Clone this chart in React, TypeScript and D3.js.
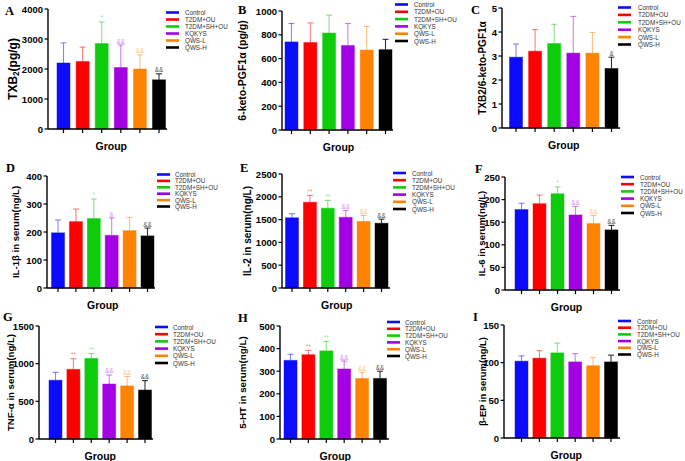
import React from "react";
import * as d3 from "d3";

const groups = ["Control", "T2DM+OU", "T2DM+SH+OU", "KQKYS", "QWS-L", "QWS-H"];
const colors = ["#0b0bff", "#ff0000", "#0ccc0c", "#a400e4", "#ff8200", "#000000"];

// Means and upper error-bar ends
const meanA = [2200, 2250, 2850, 2050, 2000, 1640];
const topA = [2870, 2730, 3570, 2800, 2470, 1840];
const markA = ["", "", "*", "&&", "&&", "&&"];

const meanB = [740, 735, 815, 710, 672, 675];
const topB = [895, 900, 965, 895, 870, 762];
const markB = ["", "", "", "", "", ""];

const meanC = [2.95, 3.2, 3.52, 3.12, 3.12, 2.48];
const topC = [3.5, 4.1, 4.32, 4.65, 3.98, 2.95];
const markC = ["", "", "", "", "", "&"];

const meanD = [197, 237, 248, 188, 205, 186];
const topD = [243, 282, 318, 250, 252, 214];
const markD = ["", "", "*", "&", "", "&&"];

const meanE = [1540, 1880, 1750, 1550, 1460, 1420];
const topE = [1630, 2030, 1920, 1700, 1590, 1510];
const markE = ["", "**", "**", "&&", "&&", "&&"];

const meanF = [178, 191, 213, 166, 147, 133];
const topF = [192, 210, 228, 185, 165, 143];
const markF = ["", "", "*", "&&", "&&", "&&"];

const meanG = [780, 925, 1070, 730, 705, 650];
const topG = [885, 1065, 1135, 850, 830, 775];
const markG = ["", "**", "**", "&&", "&&", "&&"];

const meanH = [348, 373, 390, 310, 268, 268];
const topH = [375, 392, 432, 345, 295, 300];
const markH = ["", "**", "**", "&&", "&&", "&&"];

const meanI = [102, 106, 113, 101, 96, 101];
const topI = [109, 116, 126, 112, 107, 110];
const markI = ["", "", "", "", "", ""];

const ticksA = [0, 1000, 2000, 3000, 4000];
const ticksB = [0, 200, 400, 600, 800, 1000];
const ticksC = [0, 1, 2, 3, 4, 5];
const ticksD = [0, 100, 200, 300, 400];
const ticksE = [0, 500, 1000, 1500, 2000, 2500];
const ticksF = [0, 50, 100, 150, 200, 250];
const ticksG = [0, 500, 1000, 1500];
const ticksH = [0, 100, 200, 300, 400, 500];
const ticksI = [0, 50, 100, 150];

const yLabels = ["TXB2(pg/g)", "6-keto-PGF1α (pg/g)", "TXB2/6-keto-PGF1α", "IL-1β in serum(ng/L)", "IL-2 in serum(ng/L)", "IL-6 in serum(ng/L)", "TNF-α in serum(ng/L)", "5-HT in serum(ng/L)", "β-EP in serum(ng/L)"];
const letters = ["A", "B", "C", "D", "E", "F", "G", "H", "I"];

// Layout (pixel positions and sizes only)
const layout = [
  { ax: 48, yt: 9, yb: 129, c0: 63.5, c1: 159, xe: 167, yl: 13, yfs: 12, lx: 5, ly: 15, sw: 166, tx: 185, ly0: 12.5, ldy: 7 },
  { ax: 282, yt: 11, yb: 130, c0: 291.5, c1: 385.5, xe: 393, yl: 242, yfs: 10.5, lx: 238, ly: 14, sw: 395, tx: 414, ly0: 4.5, ldy: 7.3 },
  { ax: 502, yt: 8, yb: 128, c0: 516, c1: 611.5, xe: 620, yl: 482, yfs: 10, lx: 471, ly: 14, sw: 618, tx: 638, ly0: 7.5, ldy: 7.4 },
  { ax: 47, yt: 176, yb: 288, c0: 58, c1: 147.5, xe: 155, yl: 15, yfs: 9.6, lx: 6, ly: 172, sw: 157, tx: 175, ly0: 174.5, ldy: 6.4 },
  { ax: 282, yt: 174, yb: 288, c0: 292, c1: 381.5, xe: 390, yl: 247, yfs: 10, lx: 240, ly: 172, sw: 393, tx: 412, ly0: 173, ldy: 7.2 },
  { ax: 505, yt: 177, yb: 290, c0: 521.5, c1: 611.5, xe: 620, yl: 481, yfs: 9.5, lx: 475, ly: 173, sw: 621, tx: 640, ly0: 177, ldy: 7.2 },
  { ax: 39, yt: 326, yb: 439, c0: 55.5, c1: 145, xe: 153, yl: 10, yfs: 9.6, lx: 3, ly: 321, sw: 155, tx: 173, ly0: 327, ldy: 7.2 },
  { ax: 280, yt: 326, yb: 439, c0: 290.5, c1: 380, xe: 389, yl: 242, yfs: 9.8, lx: 238, ly: 322, sw: 387, tx: 405, ly0: 322, ldy: 6.8 },
  { ax: 504, yt: 325, yb: 438, c0: 521.5, c1: 611, xe: 620, yl: 482, yfs: 9.4, lx: 473, ly: 321, sw: 618, tx: 637, ly0: 321, ldy: 6.7 },
];

const means = [meanA, meanB, meanC, meanD, meanE, meanF, meanG, meanH, meanI];
const tops = [topA, topB, topC, topD, topE, topF, topG, topH, topI];
const marks = [markA, markB, markC, markD, markE, markF, markG, markH, markI];
const ticks = [ticksA, ticksB, ticksC, ticksD, ticksE, ticksF, ticksG, ticksH, ticksI];

const SANS = "'Liberation Sans', Arial, sans-serif";
const SERIF = "'Liberation Serif', 'Times New Roman', serif";

function YLabel({ text, x, y, fs }: { text: string; x: number; y: number; fs: number }) {
  const sub = text.startsWith("TXB2(");
  return (
    <text transform={`translate(${x},${y}) rotate(-90)`} textAnchor="middle" dominantBaseline="central"
      fontFamily={SANS} fontWeight="bold" fontSize={fs} fill="#000">
      {sub ? (<><tspan>TXB</tspan><tspan fontSize={fs * 0.68} dy={2.5}>2</tspan><tspan dy={-2.5}>(pg/g)</tspan></>) : text}
    </text>
  );
}

function Panel({ i }: { i: number }) {
  const L = layout[i];
  const tv = ticks[i];
  const y = d3.scaleLinear().domain([0, tv[tv.length - 1]]).range([L.yb, L.yt]);
  const x = d3.scalePoint<string>().domain(groups).range([L.c0, L.c1]);
  const bw = 13;
  const cap = 3;
  const fmt = d3.format("d");
  return (
    <g>
      <text x={L.lx} y={L.ly} fontFamily={SERIF} fontWeight="bold" fontSize={12.5}>{letters[i]}</text>
      {groups.map((g, k) => {
        const cx = x(g)!;
        const m = means[i][k];
        const t = tops[i][k];
        const col = colors[k];
        return (
          <g key={g}>
            <line x1={cx} x2={cx} y1={y(m)} y2={y(t)} stroke={col} strokeOpacity={k === 5 ? 0.8 : 0.5} strokeWidth={1.1} />
            <line x1={cx - cap} x2={cx + cap} y1={y(t)} y2={y(t)} stroke={col} strokeOpacity={k === 5 ? 0.8 : 0.5} strokeWidth={1.1} />
            <rect x={cx - bw / 2} y={y(m)} width={bw} height={y(0) - y(m)} fill={col} stroke={col} strokeOpacity={0.45} strokeWidth={1} />
            {marks[i][k] ? (
              <text x={cx} y={y(t) - 1.5} textAnchor="middle" fontFamily={SANS} fontSize={6.3} fill={col} fillOpacity={k === 5 ? 0.75 : 0.5}>{marks[i][k]}</text>
            ) : null}
          </g>
        );
      })}
      {/* y axis */}
      <line x1={L.ax} x2={L.ax} y1={L.yt} y2={L.yb} stroke="#000" strokeWidth={1.4} />
      {tv.map((v) => (
        <g key={v}>
          <line x1={L.ax - 3.5} x2={L.ax} y1={y(v)} y2={y(v)} stroke="#000" strokeWidth={1.2} />
          <text x={L.ax - 5} y={y(v)} textAnchor="end" dominantBaseline="central" fontFamily={SANS} fontWeight="bold" fontSize={9.5}>{fmt(v)}</text>
        </g>
      ))}
      {/* x axis */}
      <line x1={L.ax} x2={L.xe} y1={L.yb} y2={L.yb} stroke="#000" strokeWidth={1.4} />
      {groups.map((g) => (
        <line key={g} x1={x(g)!} x2={x(g)!} y1={L.yb} y2={L.yb + 4} stroke="#000" strokeWidth={1.2} />
      ))}
      <text x={(L.c0 + L.c1) / 2} y={L.yb + 17} textAnchor="middle" dominantBaseline="central" fontFamily={SANS} fontWeight="bold" fontSize={10.5}>Group</text>
      <YLabel text={yLabels[i]} x={L.yl} y={(L.yt + L.yb) / 2} fs={L.yfs} />
      {/* legend */}
      {groups.map((g, k) => (
        <g key={"lg" + g}>
          <line x1={L.sw} x2={L.sw + 13} y1={L.ly0 + k * L.ldy} y2={L.ly0 + k * L.ldy} stroke={colors[k]} strokeWidth={2.6} />
          <text x={L.tx} y={L.ly0 + k * L.ldy} dominantBaseline="central" fontFamily={SANS} fontSize={6.3} fill="#333">{g}</text>
        </g>
      ))}
    </g>
  );
}

export default function App() {
  return (
    <svg width={685} height={461} style={{ position: "absolute", left: 0, top: 0, background: "#fff" }}>
      <rect width={685} height={461} fill="#fff" />
      {layout.map((_, i) => <Panel key={i} i={i} />)}
    </svg>
  );
}
